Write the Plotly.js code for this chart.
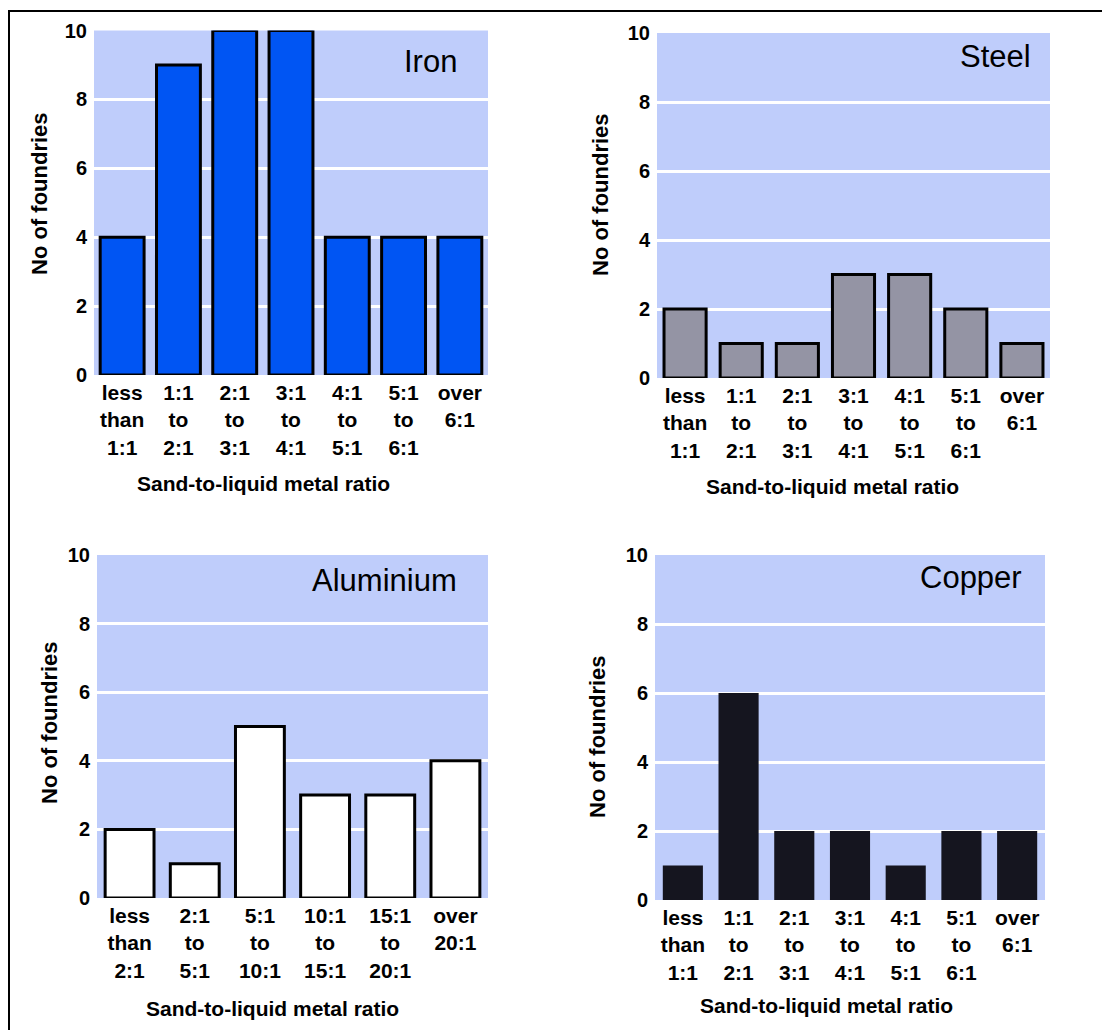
<!DOCTYPE html>
<html>
<head>
<meta charset="utf-8">
<script src="https://cdn.plot.ly/plotly-3.0.1.min.js"></script>
<style>
html,body{margin:0;padding:0;background:#fff;}
#chart{width:1102px;height:1030px;}
</style>
</head>
<body>
<div id="chart"></div>
<script>
// ---- data ----
const ratioCats = ["less<br>than<br>1:1","1:1<br>to<br>2:1","2:1<br>to<br>3:1","3:1<br>to<br>4:1","4:1<br>to<br>5:1","5:1<br>to<br>6:1","over<br>6:1"];
const aluminiumCats = ["less<br>than<br>2:1","2:1<br>to<br>5:1","5:1<br>to<br>10:1","10:1<br>to<br>15:1","15:1<br>to<br>20:1","over<br>20:1"];
const ironValues = [4, 9, 10, 10, 4, 4, 4];
const steelValues = [2, 1, 1, 3, 3, 2, 1];
const aluminiumValues = [2, 1, 5, 3, 3, 4];
const copperValues = [1, 6, 2, 2, 1, 2, 2];
const yTickVals = [0, 2, 4, 6, 8, 10];
const yGridVals = [2, 4, 6, 8];
const panelTitles = ["Iron", "Steel", "Aluminium", "Copper"];
const xAxisTitle = "Sand-to-liquid metal ratio";
const yAxisTitle = "No of foundries";

// ---- layout helpers ----
const W = 1102, H = 1030;
const px = v => v / W;
const py = v => 1 - v / H;
const FONT = "Liberation Sans, Arial, Helvetica, sans-serif";
const BG = "#BFCDFB";

const panels = [
  {cats: ratioCats, vals: ironValues, color: "#0055F3", line: 3, gap: 0.22,
   x0: 94, x1: 488, yt: 30.5, yb: 375,
   title: {x: 459, y: 61}, ytitle: {x: 40, y: 194}, xtitle: {x: 263, y: 484}},
  {cats: ratioCats, vals: steelValues, color: "#9494A4", line: 3, gap: 0.25,
   x0: 657, x1: 1050, yt: 33, yb: 378,
   title: {x: 1033, y: 57}, ytitle: {x: 600, y: 195}, xtitle: {x: 832, y: 486}},
  {cats: aluminiumCats, vals: aluminiumValues, color: "#FFFFFF", line: 3, gap: 0.25,
   x0: 97, x1: 488, yt: 555, yb: 898,
   title: {x: 459, y: 580}, ytitle: {x: 49, y: 723}, xtitle: {x: 272, y: 1008}},
  {cats: ratioCats, vals: copperValues, color: "#15151F", line: 0, gap: 0.28,
   x0: 655, x1: 1045, yt: 555, yb: 900,
   title: {x: 1024, y: 577}, ytitle: {x: 597, y: 737}, xtitle: {x: 826, y: 1005}}
];

const data = [];
const layout = {
  width: W, height: H,
  margin: {l: 0, r: 0, t: 0, b: 0},
  paper_bgcolor: "#FFFFFF",
  plot_bgcolor: BG,
  showlegend: false,
  bargap: 0.24,
  font: {family: FONT, color: "#000"},
  annotations: [],
  shapes: [
    {type: "path", xref: "paper", yref: "paper",
     path: `M ${px(9)} ${py(1030)} L ${px(9)} ${py(11)} L ${px(1102)} ${py(11)}`,
     line: {color: "#000", width: 2}}
  ]
};

panels.forEach((p, i) => {
  const n = i + 1;
  const xa = n === 1 ? "x" : "x" + n;
  const ya = n === 1 ? "y" : "y" + n;
  data.push({
    type: "bar", x: p.cats, y: p.vals, xaxis: xa, yaxis: ya,
    width: 1 - p.gap,
    marker: {color: p.color, line: {color: p.line ? "#000" : p.color, width: p.line}},
    hoverinfo: "x+y"
  });
  layout[n === 1 ? "xaxis" : "xaxis" + n] = {
    domain: [px(p.x0), px(p.x1)], anchor: ya,
    type: "category", showgrid: false, zeroline: false, showline: false,
    ticks: "", ticklabelstandoff: 3, automargin: false, fixedrange: true,
    tickfont: {family: FONT, size: 21, color: "#000", weight: "bold"}
  };
  layout[n === 1 ? "yaxis" : "yaxis" + n] = {
    domain: [py(p.yb), py(p.yt)], anchor: xa,
    range: [0, 10], tickmode: "array", tickvals: yTickVals,
    showgrid: false, zeroline: false, showline: false,
    ticks: "", ticklabelstandoff: 6, automargin: false, fixedrange: true,
    tickfont: {family: FONT, size: 20, color: "#000", weight: "bold"},
    minor: {tickmode: "array", tickvals: yGridVals, showgrid: true, gridcolor: "#FFFFFF", gridwidth: 3, ticks: ""}
  };
  layout.annotations.push(
    {text: panelTitles[i], xref: "paper", yref: "paper", x: px(p.title.x), y: py(p.title.y),
     xanchor: "right", yanchor: "middle", showarrow: false,
     font: {family: FONT, size: 31, color: "#000"}},
    {text: yAxisTitle, xref: "paper", yref: "paper", x: px(p.ytitle.x), y: py(p.ytitle.y),
     xanchor: "center", yanchor: "middle", textangle: -90, showarrow: false,
     font: {family: FONT, size: 22, color: "#000", weight: "bold"}},
    {text: xAxisTitle, xref: "paper", yref: "paper", x: px(p.xtitle.x), y: py(p.xtitle.y),
     xanchor: "center", yanchor: "middle", showarrow: false,
     font: {family: FONT, size: 21, color: "#000", weight: "bold"}}
  );
});

Plotly.newPlot("chart", data, layout, {staticPlot: true, displayModeBar: false});
</script>
</body>
</html>
